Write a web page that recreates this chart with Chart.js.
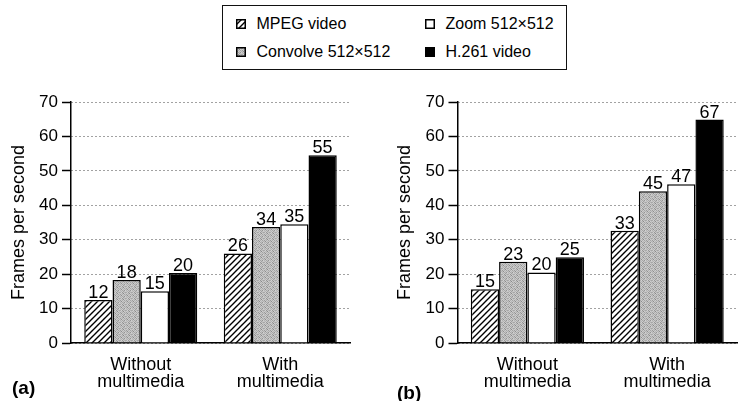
<!DOCTYPE html>
<html>
<head>
<meta charset="utf-8">
<script src="https://cdn.jsdelivr.net/npm/chart.js@4.4.1/dist/chart.umd.min.js"></script>
<style>
    html, body { margin: 0; padding: 0; background: #fff; }
    body {
        width: 742px; height: 401px; position: relative; overflow: hidden;
        font-family: "Liberation Sans", Arial, sans-serif; color: #000;
    }
    canvas.chart { position: absolute; top: 75px; }
    #chart-a { left: 0; }
    #chart-b { left: 370px; }
    #legend {
        position: absolute; left: 222px; top: 5px;
        width: 343px; height: 63px; border: 1.5px solid #111;
    }
    .legend-item { position: absolute; font-size: 16px; line-height: 18px; white-space: nowrap; }
    .legend-item canvas { position: absolute; left: 0; top: 4px; }
    .legend-item span { position: absolute; left: 21px; top: 0; }
    .panel-tag { position: absolute; font-weight: bold; font-size: 19px; line-height: 19px; }
</style>
</head>
<body>
<div id="legend"></div>
<canvas id="chart-a" class="chart" width="370" height="326"></canvas>
<canvas id="chart-b" class="chart" width="372" height="326"></canvas>
<div class="panel-tag" style="left:12px; top:378px;">(a)</div>
<div class="panel-tag" style="left:397px; top:383px;">(b)</div>

<script>
/* ---- data ---- */
const groups = [['Without', 'multimedia'], ['With', 'multimedia']];
const seriesNames = ['MPEG video', 'Convolve 512×512', 'Zoom 512×512', 'H.261 video'];
const yTicks = { min: 0, max: 70, step: 10 };

// panel (a): bar heights as drawn, and the numbers printed above them
const mpegA = [12.5, 26];
const convolveA = [18.3, 33.7];
const zoomA = [15, 34.5];
const h261A = [20.3, 54.5];
const mpegALabels = [12, 26];
const convolveALabels = [18, 34];
const zoomALabels = [15, 35];
const h261ALabels = [20, 55];

// panel (b)
const mpegB = [15.6, 32.6];
const convolveB = [23.6, 44.1];
const zoomB = [20.5, 46.1];
const h261B = [24.9, 64.9];
const mpegBLabels = [15, 33];
const convolveBLabels = [23, 45];
const zoomBLabels = [20, 47];
const h261BLabels = [25, 67];

const FONT = '"Liberation Sans", Arial, sans-serif';
Chart.defaults.font.family = FONT;
Chart.defaults.color = '#000';

/* ---- fills ---- */
function hatchPattern() {
    const s = 6;
    const c = document.createElement('canvas');
    c.width = s; c.height = s;
    const g = c.getContext('2d');
    g.fillStyle = '#fff';
    g.fillRect(0, 0, s, s);
    g.strokeStyle = '#000';
    g.lineWidth = 1.4;
    g.beginPath();
    g.moveTo(-1, s + 1); g.lineTo(s + 1, -1);
    g.moveTo(-1, 1); g.lineTo(1, -1);
    g.moveTo(s - 1, s + 1); g.lineTo(s + 1, s - 1);
    g.stroke();
    return g.createPattern(c, 'repeat');
}

// fixed speckle tile for the grey bars
const SPECKLE = [
    [196, 178, 206, 160, 192, 202],
    [170, 210, 150, 198, 182, 166],
    [204, 184, 192, 138, 206, 188],
    [156, 200, 174, 204, 164, 198],
    [194, 142, 206, 182, 200, 176],
    [178, 202, 166, 194, 148, 208]
];

function specklePattern() {
    const n = SPECKLE.length;
    const c = document.createElement('canvas');
    c.width = n; c.height = n;
    const g = c.getContext('2d');
    const img = g.createImageData(n, n);
    SPECKLE.forEach((row, y) => row.forEach((v, x) => {
        const k = (y * n + x) * 4;
        img.data[k] = img.data[k + 1] = img.data[k + 2] = v;
        img.data[k + 3] = 255;
    }));
    g.putImageData(img, 0, 0);
    return g.createPattern(c, 'repeat');
}

const fills = [hatchPattern(), specklePattern(), '#fff', '#000'];

/* ---- legend (two columns, column-major) ---- */
const legendEl = document.getElementById('legend');
const legendPos = [[12.5, 8.5], [12.5, 36.5], [201.5, 8.5], [201.5, 36.5]];
seriesNames.forEach((name, i) => {
    const item = document.createElement('div');
    item.className = 'legend-item';
    item.style.left = legendPos[i][0] + 'px';
    item.style.top = legendPos[i][1] + 'px';
    const sw = document.createElement('canvas');
    sw.width = 10; sw.height = 10;
    const g = sw.getContext('2d');
    g.fillStyle = fills[i];
    g.fillRect(0, 0, 10, 10);
    g.strokeStyle = '#000';
    g.lineWidth = 1.5;
    g.strokeRect(0.75, 0.75, 8.5, 8.5);
    const label = document.createElement('span');
    label.textContent = name;
    item.appendChild(sw);
    item.appendChild(label);
    legendEl.appendChild(item);
});

/* ---- numbers above bars ---- */
const valueLabels = {
    id: 'valueLabels',
    afterDatasetsDraw(chart) {
        const ctx = chart.ctx;
        ctx.save();
        ctx.font = '18px ' + FONT;
        ctx.fillStyle = '#000';
        ctx.textAlign = 'center';
        ctx.textBaseline = 'alphabetic';
        chart.data.datasets.forEach((ds, i) => {
            chart.getDatasetMeta(i).data.forEach((bar, j) => {
                ctx.fillText(String(ds.printed[j]), bar.x, bar.y - 2);
            });
        });
        ctx.restore();
    }
};

function makeChart(id, values, printed, pad, yWidth) {
    return new Chart(document.getElementById(id), {
        type: 'bar',
        data: {
            labels: groups,
            datasets: values.map((v, i) => ({
                label: seriesNames[i],
                data: v,
                printed: printed[i],
                backgroundColor: fills[i],
                borderColor: '#000',
                borderWidth: 1.5,
                borderSkipped: 'start',
                categoryPercentage: 0.81,
                barPercentage: 1.0
            }))
        },
        options: {
            responsive: false,
            animation: false,
            devicePixelRatio: 1,
            layout: { padding: pad },
            plugins: { legend: { display: false }, tooltip: { enabled: false } },
            scales: {
                x: {
                    grid: { display: false, drawTicks: false, tickLength: 0 },
                    border: { display: true, color: '#000', width: 1.5 },
                    ticks: {
                        color: '#000',
                        font: { size: 18, lineHeight: 0.96 },
                        padding: 13,
                        maxRotation: 0
                    },
                    afterFit: s => { s.height = 58; }
                },
                y: {
                    min: yTicks.min,
                    max: yTicks.max,
                    ticks: { stepSize: yTicks.step, color: '#000', font: { size: 17 }, padding: 4 },
                    grid: {
                        color: '#444',
                        lineWidth: 1,
                        borderDash: [1, 3],
                        tickLength: 9,
                        tickColor: '#000',
                        tickWidth: 1.5,
                        tickBorderDash: []
                    },
                    border: { display: true, color: '#000', width: 1.5, dash: [1, 3] },
                    title: {
                        display: true,
                        text: 'Frames per second',
                        color: '#000',
                        font: { size: 18 },
                        padding: { top: 8, bottom: 0 }
                    },
                    afterFit: s => { s.width = yWidth; }
                }
            }
        },
        plugins: [valueLabels]
    });
}

makeChart('chart-a',
    [mpegA, convolveA, zoomA, h261A],
    [mpegALabels, convolveALabels, zoomALabels, h261ALabels],
    { left: 0, right: 20, top: 27, bottom: 0 }, 71);

makeChart('chart-b',
    [mpegB, convolveB, zoomB, h261B],
    [mpegBLabels, convolveBLabels, zoomBLabels, h261BLabels],
    { left: 16, right: 5, top: 27, bottom: 0 }, 71.5);
</script>
</body>
</html>
